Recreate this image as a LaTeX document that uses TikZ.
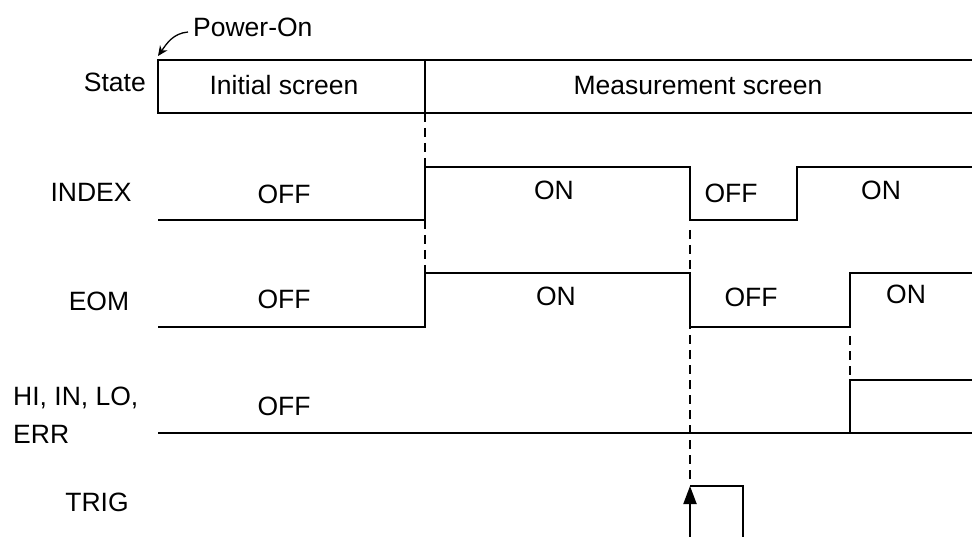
\documentclass[tikz,border=0pt]{standalone}
\usepackage{fontspec}
\setmainfont{Liberation Sans}
\usetikzlibrary{arrows.meta}

\begin{document}
\begin{tikzpicture}[x=1pt, y=-1pt, font=\fontsize{26.5}{30}\selectfont,
    every node/.style={inner sep=0pt},
    sig/.style={line width=2pt},
    guide/.style={line width=1.2pt, dash pattern=on 9pt off 6pt}]
    \def\xS{158} \def\xA{425} \def\xB{690} \def\xE{743} \def\xC{797} \def\xD{850} \def\xR{972}
    \useasboundingbox (0,0) rectangle (972,537);
    % State bar
    \draw[sig] (\xR,60) -- (\xS,60) -- (\xS,113) -- (\xR,113);
    \draw[sig] (\xA,60) -- (\xA,113);
    \node[anchor=east] (state) at (146,82) {State};
    \node (init) at (284,85) {Initial screen};
    \node (meas) at (698,86) {Measurement screen};
    % Power-On mark
    \node[anchor=west] (pwr) at (193,27) {Power-On};
    \draw[line width=1.3pt, -{Stealth[length=10pt,width=9pt]}]
        ([xshift=-5pt,yshift=-5pt]pwr.west) to[out=185,in=55] (\xS,56);
    % Signal names
    \node (index) at (91,192) {INDEX};
    \node (eom) at (99,301) {EOM};
    \node[anchor=base west] (judge) at (13,405) {HI, IN, LO,};
    \node[anchor=base west] (err) at (13,443) {ERR};
    \node (trig) at (97,502) {TRIG};
    % Guides
    \draw[guide] (\xA,113) -- (\xA,167);
    \draw[guide] (\xA,220) -- (\xA,273);
    \draw[guide] (\xB,230) -- (\xB,480);
    \draw[guide] (\xD,336) -- (\xD,378);
    % INDEX
    \draw[sig] (\xS,220) -- (\xA,220) -- (\xA,167) -- (\xB,167) -- (\xB,220)
        -- (\xC,220) -- (\xC,167) -- (\xR,167);
    % EOM
    \draw[sig] (\xS,327) -- (\xA,327) -- (\xA,273) -- (\xB,273) -- (\xB,327)
        -- (\xD,327) -- (\xD,273) -- (\xR,273);
    % HI, IN, LO, ERR
    \draw[sig] (\xS,433) -- (\xR,433);
    \draw[sig] (\xD,433) -- (\xD,380) -- (\xR,380);
    % TRIG
    \draw[sig, -{Triangle[length=18pt,width=13pt]}] (\xB,537) -- (\xB,486);
    \draw[sig] (\xB,486) -- (\xE,486) -- (\xE,537);
    % Levels
    \foreach \x/\y/\lab in {284/194/OFF, 554/190/ON, 731/193/OFF, 881/190/ON,
        284/299/OFF, 556/296/ON, 751/297/OFF, 906/294/ON, 284/406/OFF}
        \node at (\x,\y) {\lab};
\end{tikzpicture}
\end{document}
